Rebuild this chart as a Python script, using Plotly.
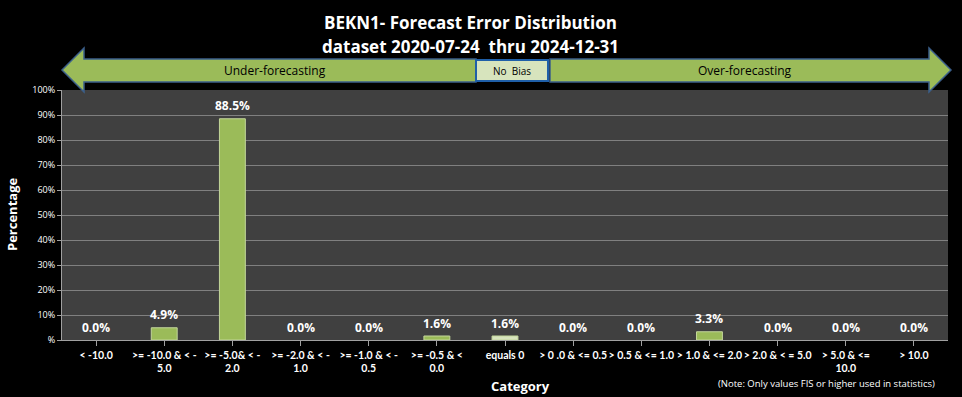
import plotly.graph_objects as go

categories = ["< -10.0", ">= -10.0 & < -<br>5.0", ">= -5.0& < -<br>2.0", ">= -2.0 & < -<br>1.0",
              ">= -1.0 & < -<br>0.5", ">= -0.5 & <<br>0.0", "equals 0", "> 0 .0 & <= 0.5",
              "> 0.5 & <= 1.0", "> 1.0 & <= 2.0", "> 2.0 & < = 5.0", "> 5.0 & <=<br>10.0", "> 10.0"]
values = [0.0, 4.9, 88.5, 0.0, 0.0, 1.6, 1.6, 0.0, 0.0, 3.3, 0.0, 0.0, 0.0]
bar_colors = ["#9bbb59"] * 6 + ["#d7e4bd"] + ["#9bbb59"] * 6
ytick_vals = list(range(0, 101, 10))
ytick_text = ["%"] + [f"{v}%" for v in ytick_vals[1:]]

W, H = 962, 397
L, R, T, B = 62, 948, 90, 340
FONT = "Open Sans"

def px(x, y):
    return (x - L) / (R - L), (B - y) / (B - T)

def path(pts):
    s = ""
    for i, (x, y) in enumerate(pts):
        a, b = px(x, y)
        s += ("M" if i == 0 else "L") + f"{a:.5f},{b:.5f} "
    return s + "Z"

xs = list(range(len(categories)))
fig = go.Figure()
fig.add_trace(go.Bar(x=xs, y=values,
                     marker=dict(color=bar_colors,
                                 line=dict(color="#c3d69b", width=[1 if v > 0 else 0 for v in values])),
                     hoverinfo="skip"))

shapes = []
shapes.append(dict(type="path", xref="paper", yref="paper",
                   path=path([(62, 70), (84, 48), (84, 59), (476, 59), (476, 82), (84, 82), (84, 92)]),
                   fillcolor="#9bbb59", line=dict(color="#3b5f8a", width=1.5), layer="above"))
shapes.append(dict(type="path", xref="paper", yref="paper",
                   path=path([(951, 70), (929, 48), (929, 59), (550, 59), (550, 82), (929, 82), (929, 92)]),
                   fillcolor="#9bbb59", line=dict(color="#3b5f8a", width=1.5), layer="above"))
shapes.append(dict(type="path", xref="paper", yref="paper",
                   path=path([(476, 60), (548, 60), (548, 81), (476, 81)]),
                   fillcolor="#d7e4bd", line=dict(color="#1f5fa8", width=2), layer="above"))

annotations = []
for i, v in enumerate(values):
    annotations.append(dict(x=i, y=v, text=f"<b>{v:.1f}%</b>", showarrow=False, yshift=13,
                            font=dict(color="white", size=12, family=FONT), xref="x", yref="y"))

def ann(x, y, text, size, bold=False, color="white", **kw):
    a, b = px(x, y)
    annotations.append(dict(x=a, y=b, xref="paper", yref="paper", showarrow=False,
                            xanchor="center", yanchor="middle",
                            text=f"<b>{text}</b>" if bold else text,
                            font=dict(color=color, size=size, family=FONT), **kw))

ann(470, 22, "BEKN1- Forecast Error Distribution", 17, bold=True)
ann(470, 46, "dataset 2020-07-24  thru 2024-12-31", 17, bold=True)
ann(275, 71, "Under-forecasting", 12, color="black")
ann(512, 71, "No  Bias", 10, color="black")
ann(745, 71, "Over-forecasting", 12, color="black")
ann(520, 386, "Category", 13, bold=True)
ann(826, 383, "(Note: Only values FIS or higher used in statistics)", 9.5)
ann(12, 215, "Percentage", 13, bold=True, textangle=-90)

fig.update_layout(
    width=W, height=H, paper_bgcolor="black", plot_bgcolor="#404040",
    margin=dict(l=L, r=W - R, t=T, b=H - B, autoexpand=False), showlegend=False, bargap=0.62,
    shapes=shapes, annotations=annotations,
    font=dict(family=FONT, color="white"),
)
fig.update_xaxes(tickmode="array", tickvals=xs, ticktext=[f"<b>{c}</b>" for c in categories],
                 tickfont=dict(size=10.5, color="white", family="Lato"), ticks="outside", tickson="boundaries",
                 tickangle=0, automargin=False,
                 ticklen=5, tickcolor="#a0a0a0", showline=True, linecolor="#a0a0a0", linewidth=1,
                 range=[-0.5, len(categories) - 0.5], showgrid=False)
fig.update_yaxes(range=[0, 100], tickmode="array", tickvals=ytick_vals, ticktext=ytick_text,
                 tickfont=dict(size=9, color="white", family=FONT), ticks="outside", ticklen=4,
                 automargin=False,
                 tickcolor="#a0a0a0", showline=True, linecolor="#a0a0a0", gridcolor="#808080",
                 gridwidth=1, zeroline=False)
fig.write_html("out.html", config={"displayModeBar": False},
               post_script="document.body.style.margin='0';document.body.style.background='black';")
